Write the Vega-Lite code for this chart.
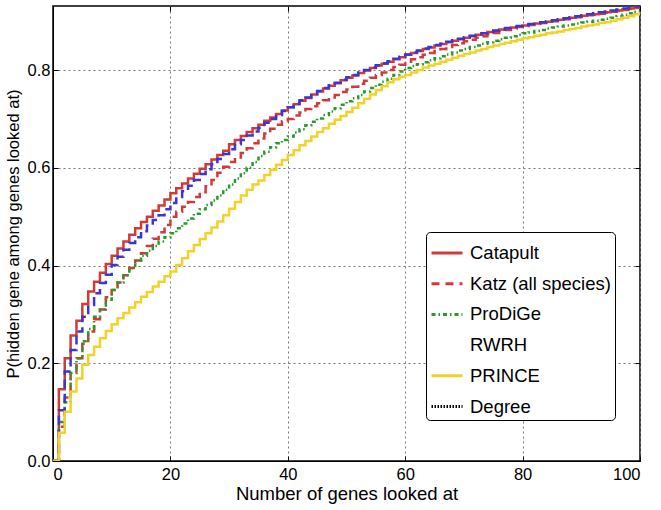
{
  "$schema": "https://vega.github.io/schema/vega-lite/v6.json",
  "width": 587,
  "height": 455,
  "autosize": {"type": "none"},
  "padding": {"left": 53, "top": 6, "right": 21, "bottom": 49},
  "background": "white",
  "config": {
    "view": {"stroke": "black", "strokeWidth": 1.5},
    "font": "Liberation Sans",
    "axis": {
      "labelFont": "Liberation Sans", "labelFontSize": 16.5, "labelColor": "black",
      "titleFont": "Liberation Sans", "titleFontSize": 16.5, "titleFontWeight": "normal", "titleColor": "black",
      "domainColor": "black", "tickColor": "black", "gridColor": "#777777", "gridDash": [2, 3], "gridWidth": 1
    }
  },
  "data": {"values": [
    {"x":0,"Catapult":0,"Katz":0,"ProDiGe":0,"RWRH":0,"PRINCE":0},
    {"x":1,"Catapult":0.147,"Katz":0.07,"ProDiGe":0.08,"RWRH":0.104,"PRINCE":0.058},
    {"x":2,"Catapult":0.21,"Katz":0.13,"ProDiGe":0.12,"RWRH":0.183,"PRINCE":0.101},
    {"x":3,"Catapult":0.257,"Katz":0.18,"ProDiGe":0.18,"RWRH":0.227,"PRINCE":0.142},
    {"x":4,"Catapult":0.287,"Katz":0.21,"ProDiGe":0.21,"RWRH":0.265,"PRINCE":0.169},
    {"x":5,"Catapult":0.321,"Katz":0.24,"ProDiGe":0.245,"RWRH":0.295,"PRINCE":0.197},
    {"x":6,"Catapult":0.347,"Katz":0.265,"ProDiGe":0.27,"RWRH":0.319,"PRINCE":0.217},
    {"x":7,"Catapult":0.367,"Katz":0.29,"ProDiGe":0.295,"RWRH":0.343,"PRINCE":0.234},
    {"x":8,"Catapult":0.385,"Katz":0.31,"ProDiGe":0.31,"RWRH":0.364,"PRINCE":0.251},
    {"x":9,"Catapult":0.403,"Katz":0.335,"ProDiGe":0.33,"RWRH":0.381,"PRINCE":0.266},
    {"x":10,"Catapult":0.42,"Katz":0.35,"ProDiGe":0.35,"RWRH":0.401,"PRINCE":0.28},
    {"x":11,"Catapult":0.435,"Katz":0.365,"ProDiGe":0.365,"RWRH":0.418,"PRINCE":0.292},
    {"x":12,"Catapult":0.449,"Katz":0.38,"ProDiGe":0.38,"RWRH":0.432,"PRINCE":0.303},
    {"x":13,"Catapult":0.463,"Katz":0.395,"ProDiGe":0.395,"RWRH":0.446,"PRINCE":0.314},
    {"x":14,"Catapult":0.476,"Katz":0.41,"ProDiGe":0.41,"RWRH":0.458,"PRINCE":0.325},
    {"x":15,"Catapult":0.489,"Katz":0.425,"ProDiGe":0.42,"RWRH":0.47,"PRINCE":0.336},
    {"x":16,"Catapult":0.5,"Katz":0.44,"ProDiGe":0.43,"RWRH":0.482,"PRINCE":0.346},
    {"x":17,"Catapult":0.512,"Katz":0.455,"ProDiGe":0.44,"RWRH":0.493,"PRINCE":0.357},
    {"x":18,"Catapult":0.523,"Katz":0.468,"ProDiGe":0.449,"RWRH":0.503,"PRINCE":0.367},
    {"x":19,"Catapult":0.535,"Katz":0.483,"ProDiGe":0.458,"RWRH":0.515,"PRINCE":0.378},
    {"x":20,"Catapult":0.548,"Katz":0.5,"ProDiGe":0.466,"RWRH":0.528,"PRINCE":0.388},
    {"x":21,"Catapult":0.558,"Katz":0.51,"ProDiGe":0.476,"RWRH":0.54,"PRINCE":0.401},
    {"x":22,"Catapult":0.568,"Katz":0.52,"ProDiGe":0.486,"RWRH":0.552,"PRINCE":0.415},
    {"x":23,"Catapult":0.578,"Katz":0.53,"ProDiGe":0.496,"RWRH":0.563,"PRINCE":0.429},
    {"x":24,"Catapult":0.588,"Katz":0.54,"ProDiGe":0.506,"RWRH":0.575,"PRINCE":0.442},
    {"x":25,"Catapult":0.598,"Katz":0.55,"ProDiGe":0.515,"RWRH":0.587,"PRINCE":0.454},
    {"x":26,"Catapult":0.607,"Katz":0.562,"ProDiGe":0.524,"RWRH":0.597,"PRINCE":0.466},
    {"x":27,"Catapult":0.617,"Katz":0.575,"ProDiGe":0.533,"RWRH":0.607,"PRINCE":0.478},
    {"x":28,"Catapult":0.626,"Katz":0.59,"ProDiGe":0.543,"RWRH":0.618,"PRINCE":0.49},
    {"x":29,"Catapult":0.635,"Katz":0.602,"ProDiGe":0.555,"RWRH":0.628,"PRINCE":0.503},
    {"x":30,"Catapult":0.648,"Katz":0.612,"ProDiGe":0.566,"RWRH":0.638,"PRINCE":0.516},
    {"x":31,"Catapult":0.657,"Katz":0.621,"ProDiGe":0.578,"RWRH":0.648,"PRINCE":0.53},
    {"x":32,"Catapult":0.665,"Katz":0.63,"ProDiGe":0.589,"RWRH":0.657,"PRINCE":0.543},
    {"x":33,"Catapult":0.673,"Katz":0.64,"ProDiGe":0.6,"RWRH":0.666,"PRINCE":0.555},
    {"x":34,"Catapult":0.681,"Katz":0.65,"ProDiGe":0.612,"RWRH":0.674,"PRINCE":0.566},
    {"x":35,"Catapult":0.688,"Katz":0.66,"ProDiGe":0.624,"RWRH":0.682,"PRINCE":0.574},
    {"x":36,"Catapult":0.696,"Katz":0.67,"ProDiGe":0.633,"RWRH":0.692,"PRINCE":0.585},
    {"x":37,"Catapult":0.703,"Katz":0.68,"ProDiGe":0.642,"RWRH":0.7,"PRINCE":0.596},
    {"x":38,"Catapult":0.71,"Katz":0.688,"ProDiGe":0.65,"RWRH":0.708,"PRINCE":0.606},
    {"x":39,"Catapult":0.717,"Katz":0.695,"ProDiGe":0.657,"RWRH":0.716,"PRINCE":0.616},
    {"x":40,"Catapult":0.724,"Katz":0.7,"ProDiGe":0.664,"RWRH":0.724,"PRINCE":0.626},
    {"x":41,"Catapult":0.73,"Katz":0.707,"ProDiGe":0.672,"RWRH":0.731,"PRINCE":0.636},
    {"x":42,"Catapult":0.737,"Katz":0.713,"ProDiGe":0.679,"RWRH":0.738,"PRINCE":0.646},
    {"x":43,"Catapult":0.743,"Katz":0.72,"ProDiGe":0.687,"RWRH":0.744,"PRINCE":0.655},
    {"x":44,"Catapult":0.75,"Katz":0.726,"ProDiGe":0.694,"RWRH":0.751,"PRINCE":0.664},
    {"x":45,"Catapult":0.756,"Katz":0.732,"ProDiGe":0.701,"RWRH":0.757,"PRINCE":0.673},
    {"x":46,"Catapult":0.762,"Katz":0.738,"ProDiGe":0.708,"RWRH":0.763,"PRINCE":0.681},
    {"x":47,"Catapult":0.768,"Katz":0.744,"ProDiGe":0.715,"RWRH":0.769,"PRINCE":0.69},
    {"x":48,"Catapult":0.773,"Katz":0.749,"ProDiGe":0.722,"RWRH":0.774,"PRINCE":0.698},
    {"x":49,"Catapult":0.779,"Katz":0.755,"ProDiGe":0.729,"RWRH":0.78,"PRINCE":0.706},
    {"x":50,"Catapult":0.784,"Katz":0.76,"ProDiGe":0.736,"RWRH":0.785,"PRINCE":0.714},
    {"x":51,"Catapult":0.789,"Katz":0.766,"ProDiGe":0.742,"RWRH":0.79,"PRINCE":0.723},
    {"x":52,"Catapult":0.794,"Katz":0.772,"ProDiGe":0.749,"RWRH":0.795,"PRINCE":0.732},
    {"x":53,"Catapult":0.799,"Katz":0.778,"ProDiGe":0.756,"RWRH":0.8,"PRINCE":0.741},
    {"x":54,"Catapult":0.804,"Katz":0.784,"ProDiGe":0.763,"RWRH":0.805,"PRINCE":0.75},
    {"x":55,"Catapult":0.809,"Katz":0.79,"ProDiGe":0.77,"RWRH":0.81,"PRINCE":0.759},
    {"x":56,"Catapult":0.813,"Katz":0.795,"ProDiGe":0.776,"RWRH":0.814,"PRINCE":0.767},
    {"x":57,"Catapult":0.817,"Katz":0.8,"ProDiGe":0.782,"RWRH":0.818,"PRINCE":0.775},
    {"x":58,"Catapult":0.822,"Katz":0.806,"ProDiGe":0.79,"RWRH":0.823,"PRINCE":0.781},
    {"x":59,"Catapult":0.826,"Katz":0.811,"ProDiGe":0.797,"RWRH":0.827,"PRINCE":0.786},
    {"x":60,"Catapult":0.831,"Katz":0.817,"ProDiGe":0.804,"RWRH":0.832,"PRINCE":0.79},
    {"x":61,"Catapult":0.835,"Katz":0.822,"ProDiGe":0.808,"RWRH":0.836,"PRINCE":0.795},
    {"x":62,"Catapult":0.839,"Katz":0.826,"ProDiGe":0.812,"RWRH":0.84,"PRINCE":0.8},
    {"x":63,"Catapult":0.843,"Katz":0.831,"ProDiGe":0.816,"RWRH":0.844,"PRINCE":0.805},
    {"x":64,"Catapult":0.846,"Katz":0.835,"ProDiGe":0.82,"RWRH":0.847,"PRINCE":0.809},
    {"x":65,"Catapult":0.85,"Katz":0.839,"ProDiGe":0.824,"RWRH":0.851,"PRINCE":0.813},
    {"x":66,"Catapult":0.853,"Katz":0.843,"ProDiGe":0.828,"RWRH":0.854,"PRINCE":0.817},
    {"x":67,"Catapult":0.857,"Katz":0.847,"ProDiGe":0.832,"RWRH":0.858,"PRINCE":0.821},
    {"x":68,"Catapult":0.86,"Katz":0.851,"ProDiGe":0.836,"RWRH":0.861,"PRINCE":0.825},
    {"x":69,"Catapult":0.863,"Katz":0.855,"ProDiGe":0.84,"RWRH":0.864,"PRINCE":0.829},
    {"x":70,"Catapult":0.866,"Katz":0.859,"ProDiGe":0.843,"RWRH":0.867,"PRINCE":0.833},
    {"x":71,"Catapult":0.869,"Katz":0.862,"ProDiGe":0.847,"RWRH":0.87,"PRINCE":0.836},
    {"x":72,"Catapult":0.872,"Katz":0.866,"ProDiGe":0.85,"RWRH":0.873,"PRINCE":0.84},
    {"x":73,"Catapult":0.875,"Katz":0.869,"ProDiGe":0.854,"RWRH":0.875,"PRINCE":0.843},
    {"x":74,"Catapult":0.878,"Katz":0.873,"ProDiGe":0.857,"RWRH":0.878,"PRINCE":0.847},
    {"x":75,"Catapult":0.88,"Katz":0.876,"ProDiGe":0.86,"RWRH":0.881,"PRINCE":0.85},
    {"x":76,"Catapult":0.883,"Katz":0.879,"ProDiGe":0.863,"RWRH":0.883,"PRINCE":0.853},
    {"x":77,"Catapult":0.885,"Katz":0.882,"ProDiGe":0.866,"RWRH":0.886,"PRINCE":0.856},
    {"x":78,"Catapult":0.887,"Katz":0.885,"ProDiGe":0.869,"RWRH":0.888,"PRINCE":0.859},
    {"x":79,"Catapult":0.889,"Katz":0.888,"ProDiGe":0.872,"RWRH":0.89,"PRINCE":0.862},
    {"x":80,"Catapult":0.891,"Katz":0.89,"ProDiGe":0.875,"RWRH":0.892,"PRINCE":0.865},
    {"x":81,"Catapult":0.893,"Katz":0.892,"ProDiGe":0.877,"RWRH":0.894,"PRINCE":0.867},
    {"x":82,"Catapult":0.895,"Katz":0.894,"ProDiGe":0.88,"RWRH":0.896,"PRINCE":0.87},
    {"x":83,"Catapult":0.897,"Katz":0.896,"ProDiGe":0.882,"RWRH":0.898,"PRINCE":0.872},
    {"x":84,"Catapult":0.899,"Katz":0.898,"ProDiGe":0.885,"RWRH":0.9,"PRINCE":0.875},
    {"x":85,"Catapult":0.901,"Katz":0.9,"ProDiGe":0.887,"RWRH":0.902,"PRINCE":0.877},
    {"x":86,"Catapult":0.903,"Katz":0.902,"ProDiGe":0.889,"RWRH":0.904,"PRINCE":0.879},
    {"x":87,"Catapult":0.905,"Katz":0.904,"ProDiGe":0.891,"RWRH":0.906,"PRINCE":0.882},
    {"x":88,"Catapult":0.907,"Katz":0.906,"ProDiGe":0.893,"RWRH":0.908,"PRINCE":0.884},
    {"x":89,"Catapult":0.909,"Katz":0.908,"ProDiGe":0.895,"RWRH":0.91,"PRINCE":0.886},
    {"x":90,"Catapult":0.911,"Katz":0.91,"ProDiGe":0.897,"RWRH":0.912,"PRINCE":0.889},
    {"x":91,"Catapult":0.913,"Katz":0.912,"ProDiGe":0.899,"RWRH":0.914,"PRINCE":0.891},
    {"x":92,"Catapult":0.914,"Katz":0.913,"ProDiGe":0.901,"RWRH":0.916,"PRINCE":0.893},
    {"x":93,"Catapult":0.916,"Katz":0.915,"ProDiGe":0.903,"RWRH":0.918,"PRINCE":0.896},
    {"x":94,"Catapult":0.918,"Katz":0.917,"ProDiGe":0.905,"RWRH":0.92,"PRINCE":0.898},
    {"x":95,"Catapult":0.92,"Katz":0.919,"ProDiGe":0.907,"RWRH":0.922,"PRINCE":0.901},
    {"x":96,"Catapult":0.922,"Katz":0.921,"ProDiGe":0.91,"RWRH":0.924,"PRINCE":0.904},
    {"x":97,"Catapult":0.924,"Katz":0.923,"ProDiGe":0.913,"RWRH":0.926,"PRINCE":0.907},
    {"x":98,"Catapult":0.926,"Katz":0.925,"ProDiGe":0.916,"RWRH":0.928,"PRINCE":0.91},
    {"x":99,"Catapult":0.928,"Katz":0.927,"ProDiGe":0.919,"RWRH":0.93,"PRINCE":0.914},
    {"x":100,"Catapult":0.93,"Katz":0.929,"ProDiGe":0.922,"RWRH":0.932,"PRINCE":0.918}
  ]},
  "transform": [
    {"fold": ["Catapult", "Katz", "ProDiGe", "RWRH", "PRINCE"], "as": ["method", "p"]}
  ],
  "layer": [
    {
      "mark": {"type": "line", "interpolate": "step-after", "strokeWidth": 2.5, "clip": true},
      "encoding": {
        "x": {"field": "x", "type": "quantitative",
              "scale": {"domain": [0, 100], "nice": false},
              "axis": {"orient": "bottom", "values": [0, 20, 40, 60, 80, 100], "grid": true, "tickSize": -5, "labelPadding": 10, "title": "Number of genes looked at", "titleFontSize": 18.5, "titlePadding": 2}},
        "y": {"field": "p", "type": "quantitative",
              "scale": {"domain": [0, 0.931], "nice": false},
              "axis": {"orient": "left", "values": [0, 0.2, 0.4, 0.6, 0.8], "format": ".1f", "grid": true, "tickSize": -5, "labelPadding": 8, "title": "P(hidden gene among genes looked at)", "titlePadding": 6}},
        "color": {"field": "method", "type": "nominal", "legend": null,
                  "scale": {"domain": ["Catapult", "Katz", "ProDiGe", "RWRH", "PRINCE"],
                            "range": ["#d23a3a", "#d23a3a", "#2a9a2a", "#3838d0", "#f2d22a"]}},
        "strokeDash": {"field": "method", "type": "nominal", "legend": null,
                  "scale": {"domain": ["Catapult", "Katz", "ProDiGe", "RWRH", "PRINCE"],
                            "range": [[1, 0], [9, 5], [4, 3, 1.5, 3], [9, 5], [1, 0]]}}
      }
    },
    {
      "transform": [{"filter": "datum.x < 0"}],
      "mark": {"type": "line", "strokeWidth": 3},
      "encoding": {
        "x": {"field": "x", "type": "quantitative",
              "axis": {"orient": "top", "labels": false, "grid": false, "domain": false, "tickSize": -5, "values": [0, 20, 40, 60, 80, 100], "title": null}},
        "y": {"field": "p", "type": "quantitative",
              "axis": {"orient": "right", "labels": false, "grid": false, "domain": false, "tickSize": -5, "values": [0, 0.2, 0.4, 0.6, 0.8], "title": null}},
        "color": {"field": "method", "type": "nominal",
                  "scale": {"domain": ["Catapult", "Katz (all species)", "ProDiGe", "RWRH", "PRINCE", "Degree"],
                            "range": ["#d23a3a", "#d23a3a", "#2a9a2a", "#ffffff", "#f2d22a", "#000000"]},
                  "legend": {"orient": "none", "legendX": 373, "legendY": 226, "title": null,
                             "fillColor": "white", "strokeColor": "black", "cornerRadius": 4, "padding": 4,
                             "labelFont": "Liberation Sans", "labelFontSize": 18.5, "labelColor": "black", "labelOffset": 6, "labelLimit": 300,
                             "symbolType": "stroke", "symbolStrokeWidth": 3, "symbolSize": 961, "rowPadding": 3.7}},
        "strokeDash": {"field": "method", "type": "nominal",
                  "scale": {"domain": ["Catapult", "Katz (all species)", "ProDiGe", "RWRH", "PRINCE", "Degree"],
                            "range": [[1, 0], [8, 6], [4, 3, 1.5, 3], [1, 0], [1, 0], [1.5, 1.5]]}}
      }
    }
  ],
  "resolve": {
    "scale": {"color": "independent", "strokeDash": "independent"},
    "axis": {"x": "independent", "y": "independent"}
  }
}
